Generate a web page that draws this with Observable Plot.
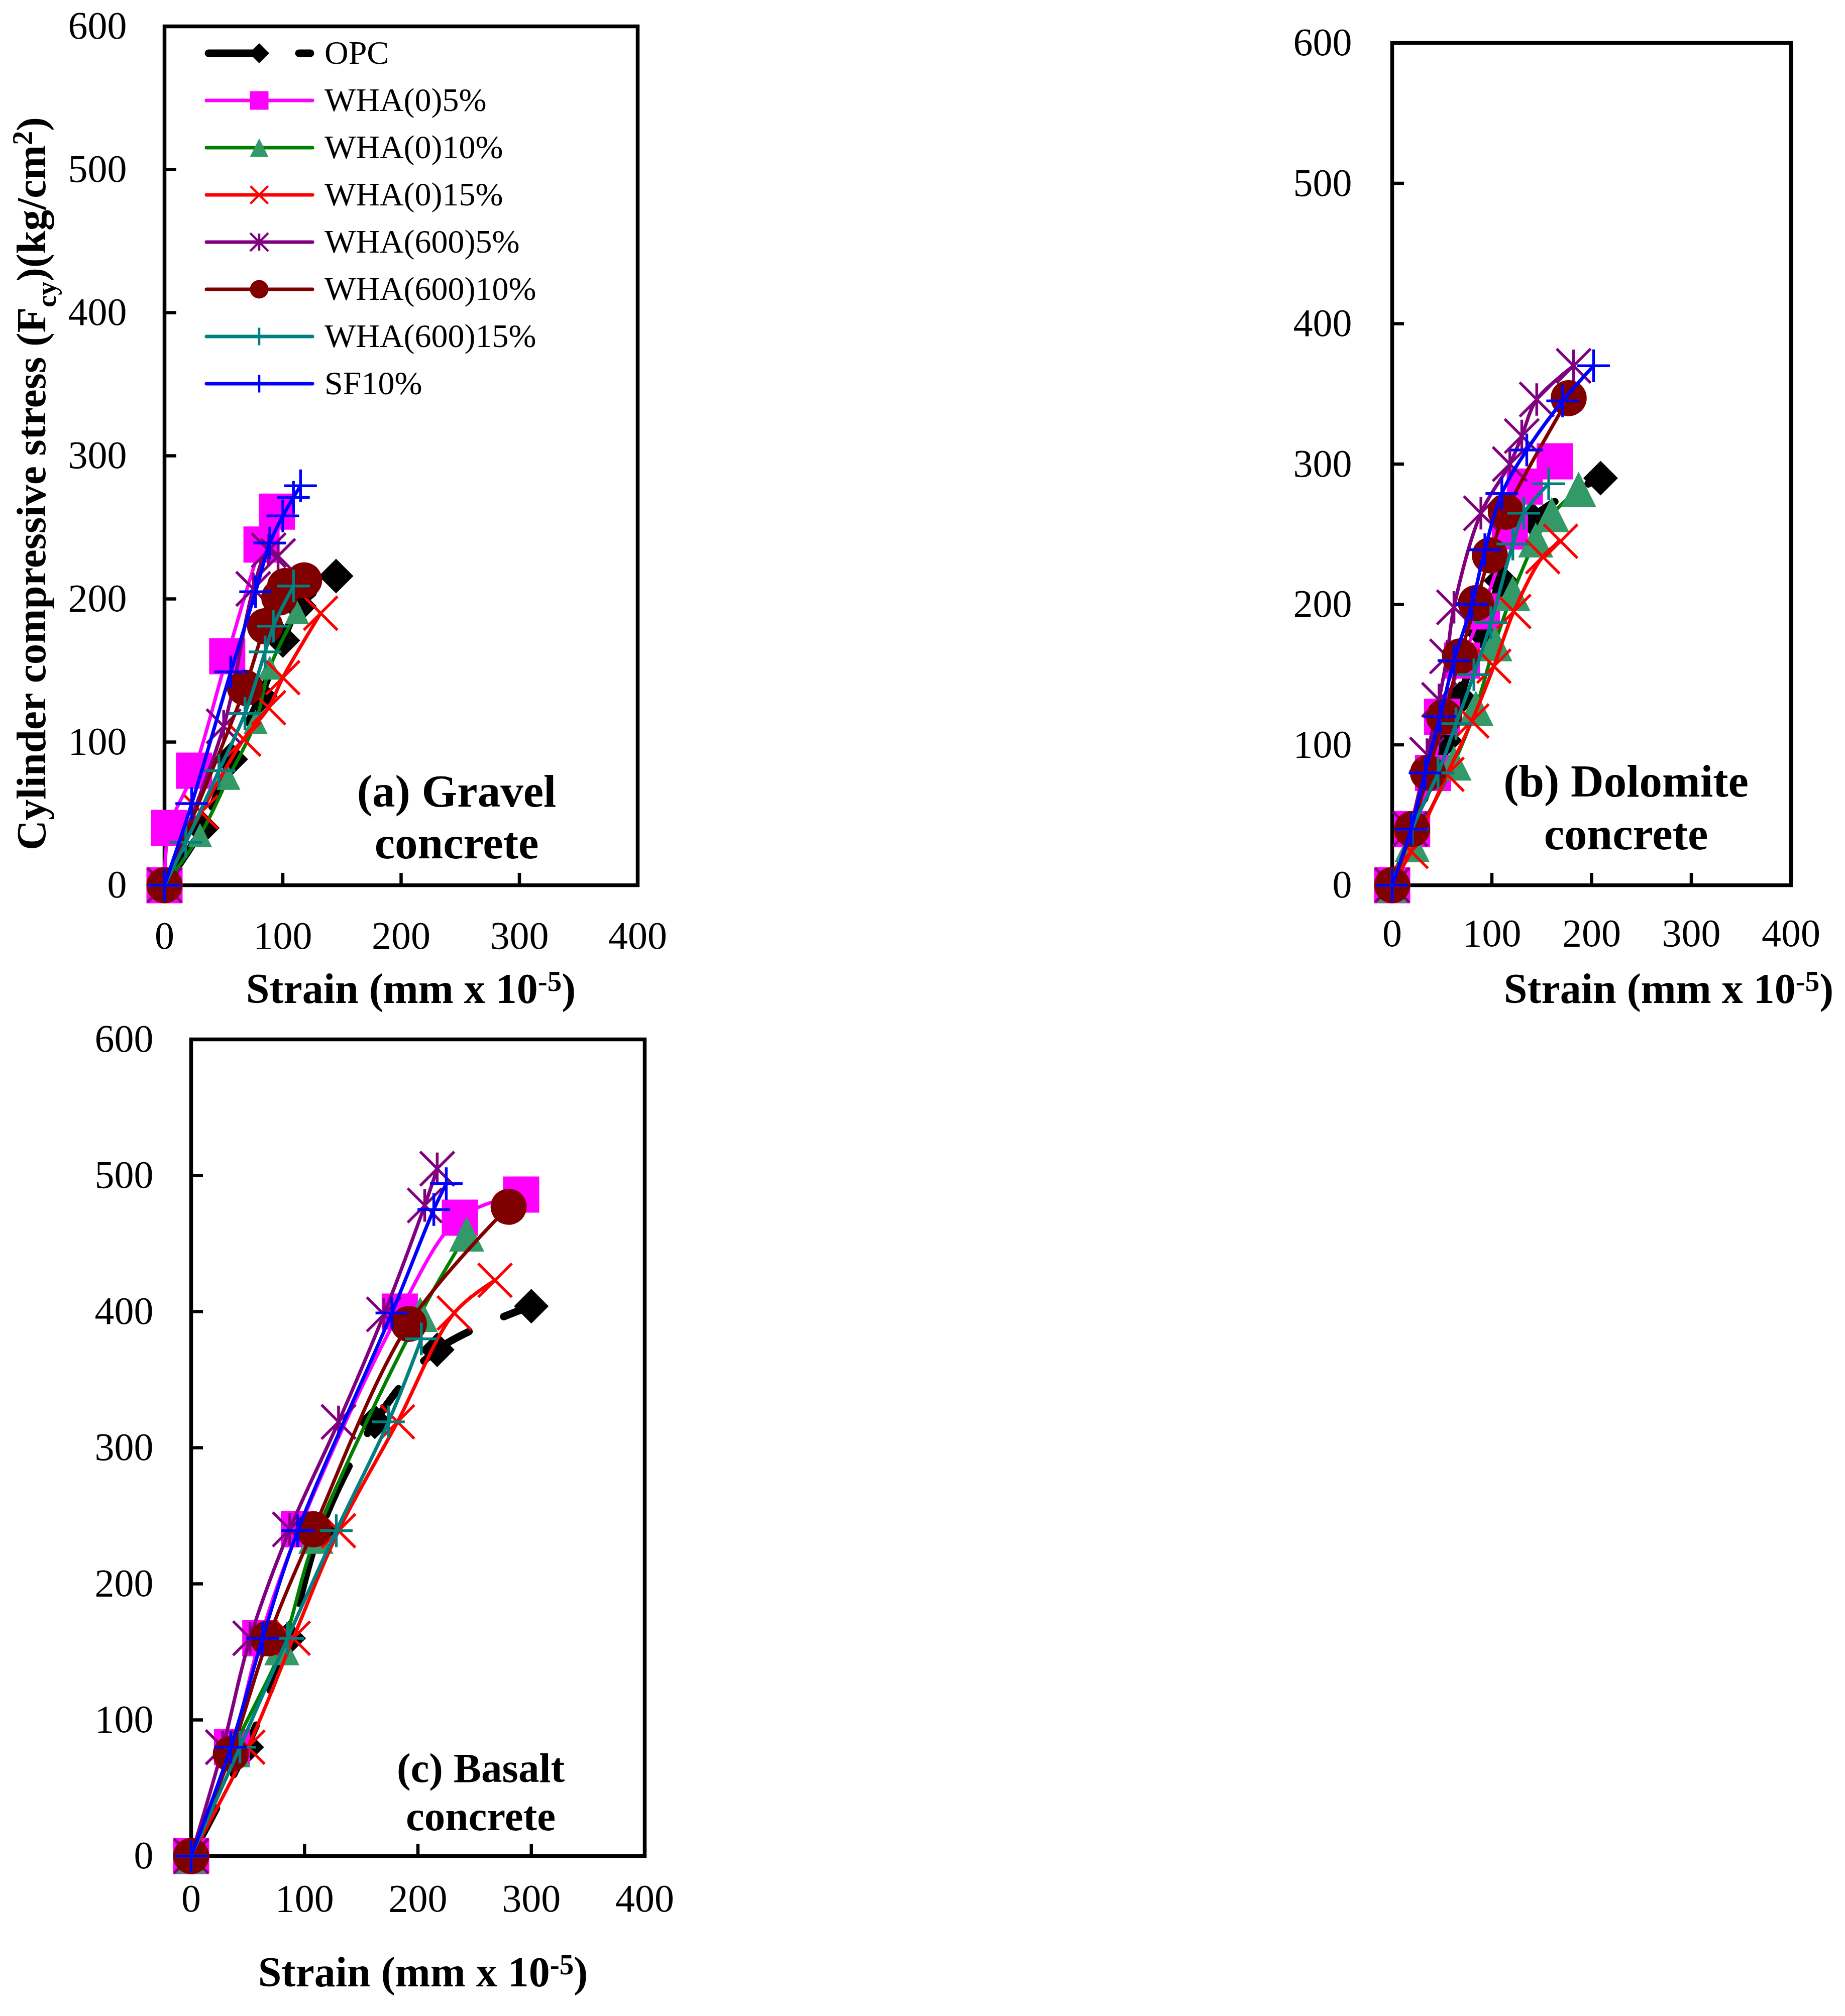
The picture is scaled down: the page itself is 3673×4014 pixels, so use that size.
<!DOCTYPE html>
<html>
<head>
<meta charset="utf-8">
<script src="https://cdn.jsdelivr.net/npm/d3@7"></script>
<script src="https://cdn.jsdelivr.net/npm/@observablehq/plot@0.6"></script>
<style>
  html, body { margin: 0; padding: 0; background: #fff; }
  #page { position: relative; width: 3673px; height: 4014px; overflow: hidden; background: #fff; }
  .panel { position: absolute; }
  #overlay { position: absolute; left: 0; top: 0; pointer-events: none; }
</style>
</head>
<body>
<div id="page"></div>
<script>
// Stress-strain curves, three aggregates. Each series is [strain, stress] pairs,
// read off the reference picture.
const seriesNames = ["OPC", "WHA(0)5%", "WHA(0)10%", "WHA(0)15%", "WHA(600)5%", "WHA(600)10%", "WHA(600)15%", "SF10%"];
const xTicks = [0, 100, 200, 300, 400];
const yTicks = [0, 100, 200, 300, 400, 500, 600];

const gravel = [
  [[0, 0], [32, 40], [56, 88], [81, 132], [100, 171], [114, 195], [145, 216]],
  [[0, 0], [4, 40], [25, 80], [53, 160], [82, 238], [95, 261]],
  [[0, 0], [30, 35], [54, 75], [77, 114], [89, 152], [112, 191]],
  [[0, 0], [31, 51], [67, 102], [88, 124], [100, 145], [132, 190]],
  [[0, 0], [50, 111], [75, 207], [88, 234], [96, 230]],
  [[0, 0], [68, 138], [85, 181], [97, 201], [102, 209], [118, 213]],
  [[0, 0], [18, 30], [46, 80], [68, 120], [85, 163], [92, 181], [109, 209]],
  [[0, 0], [23, 57], [56, 149], [77, 205], [89, 239], [100, 258], [109, 271], [115, 279]]
];

const dolomite = [
  [[0, 0], [20, 37], [53, 103], [68, 133], [89, 181], [109, 217], [140, 261], [209, 290]],
  [[0, 0], [20, 40], [41, 80], [50, 120], [70, 160], [90, 195], [118, 252], [133, 284], [163, 302]],
  [[0, 0], [20, 29], [62, 87], [84, 126], [103, 172], [121, 208], [144, 246], [160, 264], [187, 282]],
  [[0, 0], [19, 24], [55, 79], [80, 117], [102, 156], [122, 195], [151, 234], [169, 245]],
  [[0, 0], [18, 40], [35, 93], [47, 132], [55, 163], [62, 198], [89, 265], [118, 300], [130, 320], [145, 346], [182, 370]],
  [[0, 0], [20, 40], [36, 80], [52, 120], [68, 163], [84, 201], [98, 235], [114, 266], [177, 347]],
  [[0, 0], [20, 40], [46, 80], [64, 115], [82, 150], [99, 187], [121, 243], [132, 265], [157, 286]],
  [[0, 0], [19, 40], [33, 80], [48, 120], [62, 160], [80, 200], [93, 239], [110, 279], [135, 310], [171, 345], [202, 370]]
];

const basalt = [
  [[0, 0], [49, 80], [86, 160], [114, 240], [162, 319], [217, 372], [300, 404]],
  [[0, 0], [36, 80], [61, 160], [95, 240], [184, 400], [237, 469], [291, 486]],
  [[0, 0], [37, 78], [80, 153], [110, 235], [202, 398], [243, 457]],
  [[0, 0], [50, 80], [90, 160], [130, 239], [182, 319], [232, 399], [268, 423]],
  [[0, 0], [28, 80], [52, 160], [87, 240], [130, 319], [170, 398], [206, 478], [217, 505]],
  [[0, 0], [35, 75], [68, 160], [108, 240], [192, 391], [280, 477]],
  [[0, 0], [43, 80], [85, 160], [128, 239], [174, 319], [203, 380]],
  [[0, 0], [35, 80], [63, 160], [94, 239], [177, 399], [214, 475], [225, 494]]
];

// Excel-like styling per series (same order as seriesNames).
const lineColors = ["#000000", "#ff00ff", "#008000", "#ff0000", "#800080", "#800000", "#008080", "#0000ff"];
const markerColors = ["#000000", "#ff00ff", "#339966", "#ff0000", "#800080", "#800000", "#008080", "#0000ff"];
const markerShapes = ["diamond", "square", "triangle", "times", "star", "circle", "plus", "plus"];
const strokedShapes = new Set(["times", "star", "plus"]);

// Custom symbols: size = w², so the drawn width equals sqrt(size).
function sym(draw) {
  return { draw(ctx, size) { draw(ctx, Math.sqrt(size) / 2); } };
}
const shapes = {
  diamond: sym((c, h) => { c.moveTo(0, -h); c.lineTo(h, 0); c.lineTo(0, h); c.lineTo(-h, 0); c.closePath(); }),
  square: sym((c, h) => { c.rect(-h, -h, 2 * h, 2 * h); }),
  triangle: sym((c, h) => { c.moveTo(0, -h); c.lineTo(h, h); c.lineTo(-h, h); c.closePath(); }),
  circle: sym((c, h) => { c.moveTo(h, 0); c.arc(0, 0, h, 0, 2 * Math.PI); }),
  times: sym((c, h) => { c.moveTo(-h, -h); c.lineTo(h, h); c.moveTo(-h, h); c.lineTo(h, -h); }),
  star: sym((c, h) => { c.moveTo(-h, -h); c.lineTo(h, h); c.moveTo(-h, h); c.lineTo(h, -h); c.moveTo(0, -h * 0.95); c.lineTo(0, h * 0.95); }),
  plus: sym((c, h) => { c.moveTo(-h, 0); c.lineTo(h, 0); c.moveTo(0, -h); c.lineTo(0, h); })
};
const markerWidth = { diamond: 69, square: 72, triangle: 70, circle: 72, times: 67, star: 68, plus: 65 };
const toR = (w) => w / Math.sqrt(Math.PI);
const OPC_DASH = "108,75";

const page = document.getElementById("page");

function seriesMarks(series, triWidth) {
  const marks = [];
  series.forEach(function (pts, i) {
    const rows = pts.map(function (p) { return { strain: p[0], stress: p[1], name: seriesNames[i] }; });
    const opc = i === 0;
    marks.push(Plot.line(rows, {
      x: "strain", y: "stress",
      stroke: lineColors[i],
      strokeWidth: opc ? 15 : 7,
      strokeDasharray: opc ? OPC_DASH : null,
      strokeLinecap: "round",
      strokeLinejoin: "round",
      curve: "catmull-rom"
    }));
    const shape = markerShapes[i];
    const w = shape === "triangle" && triWidth ? triWidth : markerWidth[shape];
    const stroked = strokedShapes.has(shape);
    marks.push(Plot.dot(rows, {
      x: "strain", y: "stress",
      symbol: shapes[shape],
      r: toR(w),
      fill: stroked ? "none" : markerColors[i],
      stroke: stroked ? markerColors[i] : "none",
      strokeWidth: stroked ? 5.5 : 0
    }));
  });
  return marks;
}

function drawPanel(series, box) {
  const innerW = box.width - box.ml - box.mr;
  const innerH = box.height - box.mt - box.mb;
  const svg = Plot.plot({
    width: box.width,
    height: box.height,
    marginLeft: box.ml,
    marginRight: box.mr,
    marginTop: box.mt,
    marginBottom: box.mb,
    style: {
      background: "none",
      color: "black",
      fontFamily: "'Liberation Serif', 'Times New Roman', serif",
      fontSize: "78px",
      overflow: "visible"
    },
    x: { domain: [0, 400], ticks: xTicks, tickSize: 0, tickPadding: box.xPad, label: null },
    y: { domain: [0, 600], ticks: yTicks, tickSize: 0, tickPadding: box.yPad, label: null },
    marks: [
      Plot.frame({ stroke: "black", strokeWidth: 7.5 }),
      // inward tick marks
      Plot.ruleX(xTicks.slice(1, -1), { stroke: "black", strokeWidth: 6.5, insetTop: innerH - 24 }),
      Plot.ruleY(yTicks.slice(1, -1), { stroke: "black", strokeWidth: 6.5, insetRight: innerW - 24 }),
      ...seriesMarks(series, box.triWidth)
    ]
  });
  const div = document.createElement("div");
  div.className = "panel";
  div.style.left = box.left + "px";
  div.style.top = box.top + "px";
  div.appendChild(svg);
  page.appendChild(div);
}

drawPanel(gravel, { left: 0, top: 0, width: 1330, height: 1950, ml: 327, mr: 61, mt: 52, mb: 188, xPad: 71, yPad: 75, triWidth: 48 });
drawPanel(dolomite, { left: 2600, top: 0, width: 1073, height: 1950, ml: 171, mr: 108, mt: 85, mb: 188, xPad: 66, yPad: 80 });
drawPanel(basalt, { left: 0, top: 2000, width: 1330, height: 1950, ml: 380, mr: 47, mt: 69, mb: 255, xPad: 55, yPad: 75 });

// Titles, panel notes and legend.
const overlay = d3.select(page).append("svg")
  .attr("id", "overlay")
  .attr("width", 3673).attr("height", 4014)
  .style("font-family", "'Liberation Serif', 'Times New Roman', serif");

function strainLabel(x, y) {
  const t = overlay.append("text")
    .attr("x", x).attr("y", y)
    .attr("text-anchor", "middle")
    .attr("font-weight", "bold").attr("font-size", 84);
  t.append("tspan").text("Strain (mm x 10");
  t.append("tspan").attr("dy", -24).attr("font-size", 57).text("-5");
  t.append("tspan").attr("dy", 24).text(")");
}
strainLabel(818, 1997);
strainLabel(3322, 1997);
strainLabel(842, 3955);

const yl = overlay.append("text")
  .attr("transform", "translate(90,963) rotate(-90)")
  .attr("text-anchor", "middle")
  .attr("font-weight", "bold").attr("font-size", 83);
yl.append("tspan").text("Cylinder compressive stress (F");
yl.append("tspan").attr("dy", 21).attr("font-size", 54).text("cy");
yl.append("tspan").attr("dy", -21).text(")(kg/cm");
yl.append("tspan").attr("dy", -26).attr("font-size", 56).text("2");
yl.append("tspan").attr("dy", 26).text(")");

function note(x, y, size, lines) {
  lines.forEach(function (s, k) {
    overlay.append("text")
      .attr("x", x).attr("y", y[k])
      .attr("text-anchor", "middle")
      .attr("font-weight", "bold").attr("font-size", size)
      .text(s);
  });
}
note(909, [1606, 1709], 91, ["(a) Gravel", "concrete"]);
note(3237, [1586, 1691], 91, ["(b) Dolomite", "concrete"]);
note(957, [3548, 3644], 83, ["(c) Basalt", "concrete"]);

// Legend (inside panel a, top left).
const legend = overlay.append("g");
const legendW = { diamond: 40, square: 37, triangle: 37, circle: 37, times: 35, star: 36, plus: 35 };
seriesNames.forEach(function (name, i) {
  const y = 106 + 94 * i;
  const opc = i === 0;
  legend.append("line")
    .attr("x1", opc ? 415 : 411).attr("x2", opc ? 618 : 622)
    .attr("y1", y).attr("y2", y)
    .attr("stroke", lineColors[i])
    .attr("stroke-width", opc ? 15 : 7)
    .attr("stroke-linecap", "round")
    .attr("stroke-dasharray", opc ? "105,75" : null);
  const shape = markerShapes[i];
  const w = legendW[shape];
  const stroked = strokedShapes.has(shape);
  legend.append("path")
    .attr("transform", "translate(516," + y + ")")
    .attr("d", d3.symbol(shapes[shape], w * w)())
    .attr("fill", stroked ? "none" : markerColors[i])
    .attr("stroke", stroked ? markerColors[i] : "none")
    .attr("stroke-width", stroked ? 4.5 : 0);
  legend.append("text")
    .attr("x", 646).attr("y", y + 21)
    .attr("font-size", 66)
    .text(name);
});
</script>
</body>
</html>
